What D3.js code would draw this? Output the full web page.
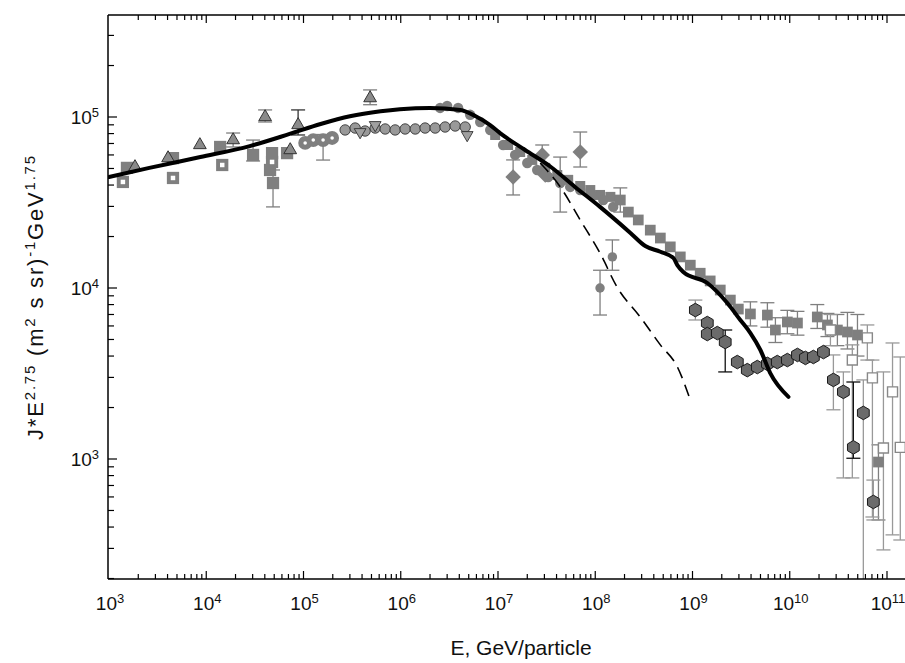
<!DOCTYPE html>
<html lang="en">
<head>
<meta charset="UTF-8">
<title>All-particle spectrum</title>
<script src="https://cdn.jsdelivr.net/npm/d3@7"></script>
<style>
  body { margin: 0; background: #fff; }
  svg { display: block; font-family: "Liberation Sans", Arial, sans-serif; }
  .tick-label { font-size: 19px; fill: #111; }
  .axis-title { font-size: 21px; fill: #111; }
</style>
</head>
<body>
<div id="chart"></div>
<script>
// ## Data  [E (GeV), J*E^2.75, errLow, errHigh]
// model lines
const modelSum = [
  [1e3, 4.46e4], [2.6e3, 5.04e4], [8.7e3, 5.83e4], [2.8e4, 6.76e4], [7.2e4, 7.96e4],
  [1.5e5, 9.1e4], [3.0e5, 1.01e5], [6.2e5, 1.08e5], [9.8e5, 1.11e5], [2.0e6, 1.13e5],
  [4.1e6, 1.10e5], [5.9e6, 1.01e5], [8.3e6, 8.97e4], [1.05e7, 8.05e4], [1.9e7, 6.41e4],
  [3.5e7, 5.1e4], [6.2e7, 3.9e4], [1.12e8, 2.98e4], [2.3e8, 2.1e4], [3.27e8, 1.76e4],
  [4.67e8, 1.63e4], [6.35e8, 1.5e4], [6.98e8, 1.36e4], [8.04e8, 1.24e4], [1.42e9, 1.07e4],
  [2.28e9, 8.17e3], [3.1e9, 6.5e3], [3.94e9, 5.45e3], [4.99e9, 4.34e3], [6.3e9, 3.18e3],
  [9.7e9, 2.31e3]
];
const modelGalactic = [
  [2.72e7, 5.38e4], [4.37e7, 3.9e4], [7.0e7, 2.5e4], [1.12e8, 1.6e4], [1.68e8, 1.01e4],
  [2.9e8, 6.77e3], [4.67e8, 4.65e3], [7.0e8, 3.45e3], [9.5e8, 2.21e3]
];

// direct measurements, low energy
const squaresLow = [
  [1.53e3, 5.04e4], [4.55e3, 5.75e4], [1.39e4, 6.68e4], [3.03e4, 6.0e4, 5.53e4, 7.33e4],
  [4.75e4, 6.15e4], [4.53e4, 4.9e4], [4.86e4, 4.11e4, 2.98e4, 4.9e4], [6.78e4, 6.15e4]
];
const squaresLowHollow = [
  [1.39e3, 4.17e4], [4.55e3, 4.4e4], [1.46e4, 5.24e4], [4.75e4, 5.46e4]
];
const trianglesUp = [
  [1.85e3, 5.1e4], [4.05e3, 5.75e4], [8.6e3, 6.86e4], [1.89e4, 7.33e4, 6.68e4, 8.06e4],
  [4.03e4, 1.0e5, 9.35e4, 1.1e5], [7.3e4, 6.41e4], [8.8e4, 8.98e4, 7.85e4, 1.1e5],
  [4.84e5, 1.29e5, 1.18e5, 1.44e5]
];
const ringCircles = [
  [1.04e5, 7.05e4], [1.26e5, 7.33e4], [1.59e5, 7.33e4, 5.6e4, 7.9e4], [1.97e5, 7.54e4]
];

// air shower arrays, knee region
const openCircles = [
  [2.68e5, 8.4e4], [3.4e5, 8.62e4], [4.3e5, 8.28e4], [5.46e5, 8.62e4], [6.92e5, 8.51e4],
  [8.76e5, 8.4e4], [1.11e6, 8.51e4], [1.41e6, 8.51e4], [1.78e6, 8.62e4], [2.26e6, 8.62e4],
  [2.86e6, 8.74e4], [3.63e6, 8.86e4], [4.6e6, 8.74e4]
];
const trianglesDown = [
  [3.82e5, 8.17e4], [5.46e5, 8.98e4], [4.82e6, 7.85e4]
];
const kneeBand = [
  [2.54e6, 1.13e5], [3.0e6, 1.16e5], [3.89e6, 1.13e5], [5.17e6, 1.03e5], [6.56e6, 9.35e4],
  [8.32e6, 8.4e4], [1.13e7, 6.86e4], [1.5e7, 6.0e4], [2.0e7, 5.38e4], [2.53e7, 4.9e4],
  [3.28e7, 4.46e4], [4.36e7, 4.11e4, 2.78e4, 5.83e4], [5.53e7, 3.9e4], [7.01e7, 3.74e4],
  [9.31e7, 3.45e4], [1.21e8, 3.27e4], [1.53e8, 2.98e4]
];
const kneeSquares = [
  [9.35e6, 7.85e4], [1.27e7, 6.86e4], [1.69e7, 6.24e4], [2.25e7, 5.61e4], [3.06e7, 5.04e4],
  [4.07e7, 4.58e4], [5.27e7, 4.29e4], [7.01e7, 3.95e4], [8.89e7, 3.74e4], [1.12e8, 3.5e4],
  [1.43e8, 3.41e4]
];
const diamonds = [
  [1.43e7, 4.46e4, 3.5e4, 5.61e4], [2.85e7, 6.0e4, 4.9e4, 6.86e4],
  [7.01e7, 6.24e4, 5.1e4, 8.17e4], [3.06e7, 4.58e4]
];
const smallDots = [
  [1.5e8, 1.52e4, 1.27e4, 1.91e4], [1.12e8, 1.0e4, 6.95e3, 1.27e4]
];

// ankle region
const staircase = [
  [1.81e8, 3.27e4, 2.78e4, 3.85e4], [2.19e8, 2.78e4], [2.77e8, 2.5e4], [3.68e8, 2.18e4],
  [4.67e8, 1.96e4], [5.91e8, 1.74e4], [7.49e8, 1.52e4], [9.49e8, 1.36e4], [1.2e9, 1.22e4],
  [1.52e9, 1.1e4], [1.93e9, 9.73e3], [2.45e9, 8.5e3], [2.96e9, 7.53e3]
];
const squaresHigh = [
  [3.94e9, 7.05e3, 6.0e3, 8.3e3], [5.89e9, 6.95e3, 5.9e3, 8.2e3], [7.12e9, 5.68e3, 4.8e3, 6.7e3],
  [9.45e9, 6.33e3, 5.4e3, 7.4e3], [1.2e10, 6.24e3, 5.3e3, 7.3e3], [1.92e10, 6.77e3, 5.8e3, 8.0e3],
  [2.44e10, 6.08e3, 5.2e3, 7.1e3], [3.09e10, 5.68e3, 4.6e3, 7.0e3], [3.92e10, 5.53e3, 4.4e3, 7.2e3],
  [4.97e10, 5.31e3, 4.0e3, 7.0e3], [8.17e10, 960, 440, 1.21e3]
];
const squaresOpen = [
  [2.62e10, 5.68e3, 4.6e3, 7.0e3], [4.4e10, 3.79e3, 775, 4.65e3], [6.28e10, 5.11e3, 3.79e3, 6.08e3],
  [7.08e10, 2.98e3, 458, 3.79e3], [1.14e11, 2.47e3, 360, 4.77e3], [9.19e10, 1.16e3, 294, 3.23e3],
  [1.37e11, 1.17e3, 336, 3.95e3]
];
const hexagons = [
  [1.07e9, 7.43e3, 6.5e3, 8.5e3], [1.42e9, 6.24e3], [1.42e9, 5.38e3], [1.8e9, 5.45e3],
  [2.17e9, 4.83e3, 3.23e3, 5.68e3], [2.89e9, 3.69e3], [3.66e9, 3.31e3], [4.64e9, 3.45e3],
  [5.89e9, 3.6e3], [7.45e9, 3.69e3], [9.45e9, 3.79e3], [1.2e10, 4.06e3], [1.45e10, 3.9e3],
  [1.75e10, 3.95e3], [2.22e10, 4.22e3], [2.81e10, 2.9e3, 1.94e3, 4.06e3],
  [3.56e10, 2.47e3, 775, 3.23e3], [5.71e10, 1.86e3, 100, 2.9e3],
  [4.51e10, 1.17e3, 1.01e3, 2.82e3], [7.24e10, 561, 440, 753]
];
const hexBlackErr = [2.17e9, 4.51e10];

const xMajor = [1e3, 1e4, 1e5, 1e6, 1e7, 1e8, 1e9, 1e10, 1e11];
const yMajor = [1e3, 1e4, 1e5];

// ## Dimensions
const width = 905, height = 663;
const frame = { left: 108, top: 15, right: 905, bottom: 579 };

const svg = d3.select("#chart").append("svg")
  .attr("width", width)
  .attr("height", height);

const xScale = d3.scaleLog().domain([1e3, 1e11]).range([109, 887]);
const yScale = d3.scaleLog().domain([1e3, 1e5]).range([459, 117]);

const xTickScale = xScale.copy().domain([1e3, xScale.invert(frame.right)]).range([109, frame.right]);
const yTickScale = yScale.copy().domain([yScale.invert(frame.bottom), yScale.invert(frame.top)])
  .range([frame.bottom, frame.top]);

svg.append("defs").append("clipPath").attr("id", "plot-clip")
  .append("rect")
  .attr("x", frame.left).attr("y", frame.top)
  .attr("width", frame.right - frame.left).attr("height", frame.bottom - frame.top);

const plot = svg.append("g").attr("clip-path", "url(#plot-clip)");

// ## Markers
const gray = "#7f7f7f";
const hexType = {
  draw(ctx, size) {
    const r = Math.sqrt(size / 2.598);
    for (let i = 0; i < 6; i++) {
      const a = Math.PI / 6 + i * Math.PI / 3;
      i === 0 ? ctx.moveTo(r * Math.cos(a), r * Math.sin(a)) : ctx.lineTo(r * Math.cos(a), r * Math.sin(a));
    }
    ctx.closePath();
  }
};

function errorBars(data, color, capW = 14) {
  const g = plot.append("g").attr("stroke", color).attr("stroke-width", 1.3).attr("fill", "none");
  data.filter(d => d[2] != null).forEach(d => {
    const x = xScale(d[0]);
    const y1 = yScale(d[2]), y2 = yScale(d[3]);
    g.append("line").attr("x1", x).attr("x2", x).attr("y1", y1).attr("y2", y2);
    g.append("line").attr("x1", x - capW / 2).attr("x2", x + capW / 2).attr("y1", y1).attr("y2", y1);
    g.append("line").attr("x1", x - capW / 2).attr("x2", x + capW / 2).attr("y1", y2).attr("y2", y2);
  });
}

function markers(data, type, size, fill, stroke, strokeW, rotate = 0) {
  plot.append("g").selectAll("path")
    .data(data)
    .join("path")
    .attr("d", d3.symbol().type(type).size(size))
    .attr("transform", d => `translate(${xScale(d[0])},${yScale(d[1])}) rotate(${rotate})`)
    .attr("fill", fill)
    .attr("stroke", stroke || "none")
    .attr("stroke-width", strokeW || 0);
}

// error bars first
errorBars(squaresLow, gray);
errorBars(trianglesUp.filter(d => d[0] !== 8.8e4), gray);
errorBars(trianglesUp.filter(d => d[0] === 8.8e4), "#333");
errorBars(ringCircles, gray);
errorBars(kneeBand, gray);
errorBars(diamonds, gray);
errorBars(smallDots, gray);
errorBars(staircase, gray);
errorBars(squaresHigh, gray);
errorBars(squaresOpen, "#999");
errorBars(hexagons.filter(d => !hexBlackErr.includes(d[0])), "#999");
errorBars(hexagons.filter(d => hexBlackErr.includes(d[0])), "#111");

markers(squaresLow, d3.symbolSquare, 150, gray);
markers(squaresLowHollow, d3.symbolSquare, 150, gray);
markers(squaresLowHollow, d3.symbolSquare, 20, "#fff");
markers(ringCircles, d3.symbolCircle, 150, gray);
markers(ringCircles, d3.symbolCircle, 10, "#fff");
markers(kneeSquares, d3.symbolSquare, 100, gray);
markers(kneeBand, d3.symbolCircle, 85, gray);
markers(openCircles, d3.symbolCircle, 85, "#999", "#333", 0.9);
markers(trianglesDown, d3.symbolTriangle, 60, "#a0a0a0", "#333", 0.9, 180);
markers(trianglesUp, d3.symbolTriangle, 70, "#8a8a8a", "#333", 1);
markers(diamonds, d3.symbolSquare, 120, gray, null, 0, 45);
markers(smallDots, d3.symbolCircle, 70, gray);
markers(staircase, d3.symbolSquare, 115, gray);
markers(squaresHigh, d3.symbolSquare, 115, gray);
markers(squaresOpen, d3.symbolSquare, 100, "#fff", "#888", 1.4);
markers(hexagons, hexType, 120, "#6b6b6b", "#1a1a1a", 1);

// ## Model lines
const line = d3.line()
  .x(d => xScale(d[0]))
  .y(d => yScale(d[1]))
  .curve(d3.curveMonotoneX);

plot.append("path")
  .datum(modelGalactic)
  .attr("d", line)
  .attr("fill", "none")
  .attr("stroke", "#000")
  .attr("stroke-width", 1.6)
  .attr("stroke-dasharray", "12,7");

plot.append("path")
  .datum(modelSum)
  .attr("d", line)
  .attr("fill", "none")
  .attr("stroke", "#000")
  .attr("stroke-width", 4)
  .attr("stroke-linecap", "round")
  .attr("stroke-linejoin", "round");

// ## Frame & ticks
const axes = svg.append("g").attr("stroke", "#000").attr("stroke-width", 1.5);
axes.append("line").attr("x1", frame.left).attr("x2", frame.left).attr("y1", frame.top).attr("y2", frame.bottom);
axes.append("line").attr("x1", frame.left).attr("x2", frame.right).attr("y1", frame.bottom).attr("y2", frame.bottom);
axes.append("line").attr("x1", frame.left).attr("x2", frame.right).attr("y1", frame.top).attr("y2", frame.top);

const isMajor = v => Math.abs(Math.log10(v) - Math.round(Math.log10(v))) < 1e-9;
const tickG = svg.append("g").attr("stroke", "#000").attr("stroke-width", 1.2);

xTickScale.ticks().forEach(v => {
  const x = xScale(v);
  if (x <= frame.left + 1 || x > frame.right) return;
  const len = isMajor(v) ? 8 : 5;
  tickG.append("line").attr("x1", x).attr("x2", x).attr("y1", frame.bottom).attr("y2", frame.bottom - len);
  tickG.append("line").attr("x1", x).attr("x2", x).attr("y1", frame.top).attr("y2", frame.top + len);
});

yTickScale.ticks().forEach(v => {
  const y = yScale(v);
  if (y < frame.top || y > frame.bottom) return;
  const len = isMajor(v) ? 9 : 6;
  tickG.append("line").attr("x1", frame.left).attr("x2", frame.left + len).attr("y1", y).attr("y2", y);
});

function powerLabel(sel, v) {
  sel.text("10");
  sel.append("tspan").attr("dy", -7).style("font-size", "13px").text(Math.round(Math.log10(v)));
}

xMajor.forEach(v => {
  svg.append("text")
    .attr("class", "tick-label")
    .attr("x", xScale(v) + 1)
    .attr("y", 610)
    .attr("text-anchor", "middle")
    .call(powerLabel, v);
});

yMajor.forEach(v => {
  svg.append("text")
    .attr("class", "tick-label")
    .attr("x", 99)
    .attr("y", yScale(v) + 7)
    .attr("text-anchor", "end")
    .call(powerLabel, v);
});

// ## Axis titles
svg.append("text")
  .attr("class", "axis-title")
  .attr("x", 521)
  .attr("y", 655)
  .attr("text-anchor", "middle")
  .text("E, GeV/particle");

const yTitle = svg.append("text")
  .attr("class", "axis-title")
  .attr("transform", "translate(43,297) rotate(-90)")
  .attr("text-anchor", "middle")
  .style("font-size", "22px")
  .style("letter-spacing", "1.8px");
const parts = [
  ["J*E", 0], ["2.75", 1], [" (m", 0], ["2", 1], [" s  sr)", 0], ["-1", 1], ["GeV", 0], ["1.75", 1]
];
let raised = false;
parts.forEach(([t, sup]) => {
  const ts = yTitle.append("tspan").text(t);
  if (sup && !raised) { ts.attr("dy", -8).style("font-size", "15px"); raised = true; }
  else if (sup) { ts.style("font-size", "15px"); }
  else if (raised) { ts.attr("dy", 8); raised = false; }
});
</script>
</body>
</html>
